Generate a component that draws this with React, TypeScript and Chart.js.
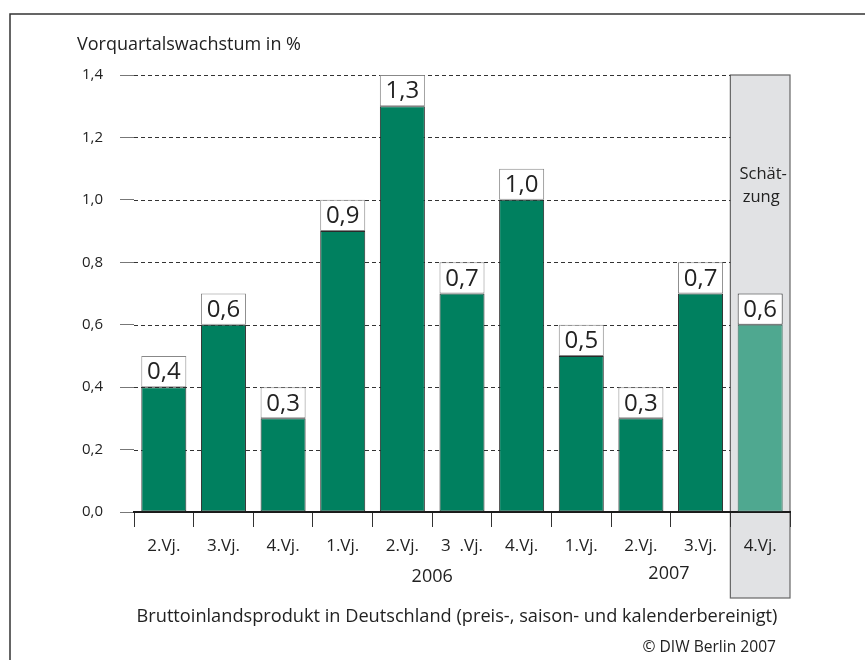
import React, { useEffect, useRef } from "react";
import { Chart, registerables } from "chart.js";

Chart.register(...registerables);

const categories = ["2.Vj.", "3.Vj.", "4.Vj.", "1.Vj.", "2.Vj.", "3  .Vj.", "4.Vj.", "1.Vj.", "2.Vj.", "3.Vj.", "4.Vj."];
const growth = [0.4, 0.6, 0.3, 0.9, 1.3, 0.7, 1.0, 0.5, 0.3, 0.7, 0.6];
const valueLabels = ["0,4", "0,6", "0,3", "0,9", "1,3", "0,7", "1,0", "0,5", "0,3", "0,7", "0,6"];
const yTicks = [0, 0.2, 0.4, 0.6, 0.8, 1.0, 1.2, 1.4];
const estimateIndex = 10;
const years = [
  { label: "2006", at: 4.5, dy: 65 },
  { label: "2007", at: 8.47, dy: 62 },
];
const yAxisTitle = "Vorquartalswachstum in %";
const xAxisTitle = "Bruttoinlandsprodukt in Deutschland (preis-, saison- und kalenderbereinigt)";
const sourceNote = "© DIW Berlin 2007";
const estimateNote = ["Schät-", "zung"];

const FONT = "'Open Sans', 'Noto Sans', sans-serif";
const GREEN = "#00805f";
const LIGHT_GREEN = "#4fa890";
const TEXT = "#222222";

export default function App() {
  const ref = useRef<HTMLCanvasElement | null>(null);

  useEffect(() => {
    document.body.style.margin = "0";
    const canvas = ref.current;
    if (!canvas) return;

    const decor = {
      id: "decor",
      beforeDraw(chart: any) {
        const { ctx, chartArea } = chart;
        const x = chart.scales.x;
        const y = chart.scales.y;
        const l = x.getPixelForValue(estimateIndex - 0.5);
        const r = x.getPixelForValue(estimateIndex + 0.5);
        const t = y.getPixelForValue(1.4);
        const b = chartArea.bottom + 86;
        ctx.save();
        ctx.fillStyle = "#e1e2e4";
        ctx.fillRect(l, t, r - l, b - t);
        ctx.strokeStyle = "#666666";
        ctx.lineWidth = 1.2;
        ctx.strokeRect(l, t, r - l, b - t);
        ctx.restore();
      },
      beforeDatasetsDraw(chart: any) {
        const { ctx, chartArea } = chart;
        const x = chart.scales.x;
        const y = chart.scales.y;
        const stop = x.getPixelForValue(estimateIndex - 0.5);
        ctx.save();
        ctx.strokeStyle = "#333333";
        ctx.lineWidth = 1;
        ctx.setLineDash([4, 3]);
        yTicks.forEach((v) => {
          if (v === 0) return;
          const py = Math.round(y.getPixelForValue(v)) + 0.5;
          ctx.beginPath();
          ctx.moveTo(chartArea.left, py);
          ctx.lineTo(stop, py);
          ctx.stroke();
        });
        ctx.restore();
      },
      afterDatasetsDraw(chart: any) {
        const { ctx } = chart;
        const meta = chart.getDatasetMeta(1);
        ctx.save();
        ctx.fillStyle = TEXT;
        ctx.font = `24px ${FONT}`;
        ctx.textAlign = "center";
        ctx.textBaseline = "middle";
        meta.data.forEach((el: any, i: number) => {
          const cy = (el.y + el.base) / 2;
          ctx.fillText(valueLabels[i], el.x, cy + 1);
        });
        ctx.restore();
      },
      afterDraw(chart: any) {
        const { ctx, chartArea } = chart;
        const x = chart.scales.x;
        ctx.save();
        // frame
        ctx.strokeStyle = "#333333";
        ctx.lineWidth = 1.5;
        ctx.beginPath();
        ctx.moveTo(10, 660);
        ctx.lineTo(10, 14);
        ctx.lineTo(865, 14);
        ctx.stroke();

        ctx.fillStyle = TEXT;
        ctx.textBaseline = "middle";
        ctx.font = `18px ${FONT}`;
        ctx.textAlign = "left";
        ctx.fillText(yAxisTitle, 77, 45);

        ctx.textAlign = "center";
        ctx.font = `18px ${FONT}`;
        years.forEach((yr) => {
          ctx.fillText(yr.label, x.getPixelForValue(yr.at), chartArea.bottom + yr.dy);
        });

        const mid = (x.getPixelForValue(estimateIndex - 0.5) + x.getPixelForValue(estimateIndex + 0.5)) / 2;
        ctx.font = `16.5px ${FONT}`;
        ctx.fillText(estimateNote[0], mid + 3, 174);
        ctx.fillText(estimateNote[1], mid + 1, 197);

        ctx.font = `18.2px ${FONT}`;
        ctx.fillText(xAxisTitle, 457, 617);

        ctx.textAlign = "right";
        ctx.font = `15.6px ${FONT}`;
        ctx.fillText(sourceNote, 776, 648);
        ctx.restore();
      },
    };

    const chart = new Chart(canvas, {
      type: "bar",
      data: {
        labels: categories,
        datasets: [
          {
            data: growth,
            backgroundColor: growth.map((_, i) => (i === estimateIndex ? LIGHT_GREEN : GREEN)),
            borderColor: growth.map((_, i) => (i === estimateIndex ? "#3c6e60" : "#2a2a2a")),
            borderWidth: 1,
            borderSkipped: false,
            categoryPercentage: 1,
            barPercentage: 0.755,
            stack: "s",
          },
          {
            data: growth.map(() => 0.1),
            backgroundColor: "#ffffff",
            borderColor: growth.map((_, i) => (i === estimateIndex ? "#333333" : "#888888")),
            borderWidth: 1,
            borderSkipped: false,
            categoryPercentage: 1,
            barPercentage: 0.755,
            stack: "s",
          },
        ],
      },
      options: {
        responsive: false,
        animation: false,
        devicePixelRatio: 1,
        layout: { padding: { left: 0, top: 75, right: 75, bottom: 0 } },
        plugins: { legend: { display: false }, tooltip: { enabled: false }, title: { display: false } },
        scales: {
          x: {
            stacked: true,
            offset: true,
            grid: {
              display: true,
              drawOnChartArea: false,
              offset: true,
              tickLength: 15,
              color: "#333333",
              lineWidth: 1,
            },
            border: { display: true, color: "#1a1a1a", width: 2 },
            ticks: { color: TEXT, font: { family: FONT, size: 17 }, padding: 9, maxRotation: 0, autoSkip: false },
            afterFit(scale: any) {
              scale.height = 148;
            },
          },
          y: {
            stacked: true,
            min: 0,
            max: 1.4,
            afterBuildTicks(scale: any) {
              scale.ticks = yTicks.map((v) => ({ value: v }));
            },
            grid: {
              display: true,
              drawOnChartArea: false,
              tickLength: 14,
              color: "#777777",
              lineWidth: 1,
            },
            border: { display: false },
            ticks: {
              color: TEXT,
              font: { family: FONT, size: 15 },
              padding: 17,
              callback: (v: any) => Number(v).toFixed(1).replace(".", ","),
            },
            afterFit(scale: any) {
              scale.width = 134;
            },
          },
        },
      },
      plugins: [decor],
    } as any);

    return () => chart.destroy();
  }, []);

  return (
    <div style={{ width: 865, height: 660, position: "relative" }}>
      <canvas ref={ref} width={865} height={660} style={{ display: "block" }} />
    </div>
  );
}
